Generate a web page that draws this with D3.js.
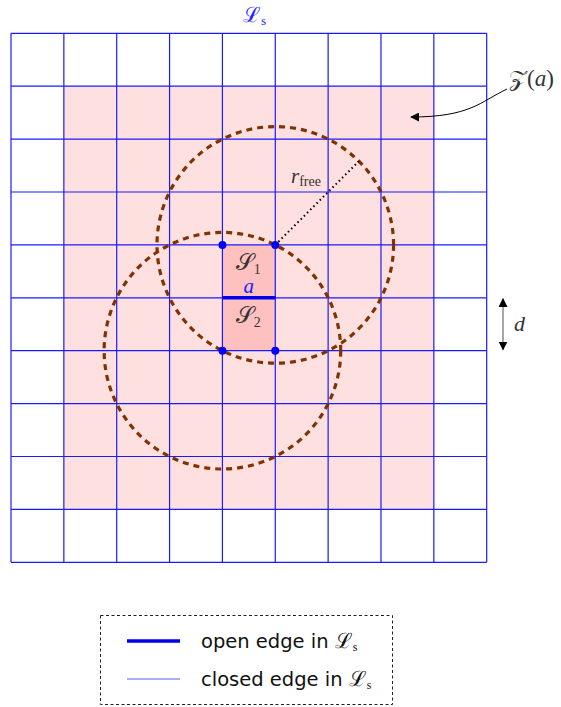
<!DOCTYPE html>
<html>
<head>
<meta charset="utf-8">
<script src="https://cdn.jsdelivr.net/npm/d3@7"></script>
<style>
  body { margin: 0; background: #fff; }
  .math { font-family: "Liberation Serif", "DejaVu Serif", serif; font-style: italic; }
</style>
</head>
<body>
<div id="chart"></div>
<script>
// lattice in cell units (9 columns x 10 rows)
const gridCols = [0, 1, 2, 3, 4, 5, 6, 7, 8, 9];
const gridRows = [0, 1, 2, 3, 4, 5, 6, 7, 8, 9, 10];
const zoneBox = { x0: 1, y0: 1, x1: 8, y1: 9 };
const sCells = [
  { name: "S", sub: "1", x: 4, y: 4 },
  { name: "S", sub: "2", x: 4, y: 5 }
];
const openEdge = [[4, 5], [5, 5]];
const dots = [[4, 4], [5, 4], [4, 6], [5, 6]];
const circles = [
  { cx: 5, cy: 4, r: Math.sqrt(5) },
  { cx: 4, cy: 6, r: Math.sqrt(5) }
];
const rFreeAngle = 45; // degrees, from upper-right dot
const legendItems = [
  { label: "open edge in ", width: 3.5, color: "#0000ee" },
  { label: "closed edge in ", width: 1.2, color: "#5a5aff" }
];

function renderLattice(containerId) {
  const width = 561;
  const height = 707;

  const container = d3.select(`#${containerId}`);
  container.html("");

  const svg = container.append("svg")
    .attr("width", width)
    .attr("height", height);

  const x = d3.scaleLinear().domain([0, 9]).range([11, 486.7]);
  const y = d3.scaleLinear().domain([0, 10]).range([33.3, 562.3]);
  const unit = y(1) - y(0);

  const defs = svg.append("defs");
  defs.append("marker")
    .attr("id", "head")
    .attr("viewBox", "0 0 10 10")
    .attr("refX", 9).attr("refY", 5)
    .attr("markerWidth", 9).attr("markerHeight", 9)
    .attr("markerUnits", "userSpaceOnUse")
    .attr("orient", "auto-start-reverse")
    .append("path")
    .attr("d", "M0,0 L10,5 L0,10 Z")
    .attr("fill", "#000");

  // Z(a) zone
  svg.append("rect")
    .attr("x", x(zoneBox.x0)).attr("y", y(zoneBox.y0))
    .attr("width", x(zoneBox.x1) - x(zoneBox.x0))
    .attr("height", y(zoneBox.y1) - y(zoneBox.y0))
    .attr("fill", "#ffe0e0");

  svg.selectAll("rect.s")
    .data(sCells).join("rect")
    .attr("class", "s")
    .attr("x", d => x(d.x)).attr("y", d => y(d.y))
    .attr("width", x(1) - x(0)).attr("height", unit)
    .attr("fill", "#ffc0c0");

  // grid lines
  svg.selectAll("line.v")
    .data(gridCols).join("line")
    .attr("class", "v")
    .attr("x1", d => x(d)).attr("x2", d => x(d))
    .attr("y1", y(0)).attr("y2", y(10))
    .attr("stroke", "#1a1aff").attr("stroke-width", 1.2);

  svg.selectAll("line.h")
    .data(gridRows).join("line")
    .attr("class", "h")
    .attr("x1", x(0)).attr("x2", x(9))
    .attr("y1", d => y(d)).attr("y2", d => y(d))
    .attr("stroke", "#1a1aff").attr("stroke-width", 1.2);

  // open edge a
  svg.append("line")
    .attr("x1", x(openEdge[0][0])).attr("y1", y(openEdge[0][1]))
    .attr("x2", x(openEdge[1][0])).attr("y2", y(openEdge[1][1]))
    .attr("stroke", "#0000ee").attr("stroke-width", 3.5);

  // free-radius circles
  svg.selectAll("circle.free")
    .data(circles).join("circle")
    .attr("class", "free")
    .attr("cx", d => x(d.cx)).attr("cy", d => y(d.cy))
    .attr("r", d => d.r * unit)
    .attr("fill", "none")
    .attr("stroke", "#7f3300")
    .attr("stroke-width", 3.2)
    .attr("stroke-dasharray", "6,5");

  // r_free radius
  const c0 = circles[0];
  const ang = rFreeAngle * Math.PI / 180;
  svg.append("line")
    .attr("x1", x(c0.cx)).attr("y1", y(c0.cy))
    .attr("x2", x(c0.cx + c0.r * Math.cos(ang))).attr("y2", y(c0.cy - c0.r * Math.sin(ang)))
    .attr("stroke", "#000").attr("stroke-width", 2)
    .attr("stroke-dasharray", "1.5,3");

  svg.selectAll("circle.dot")
    .data(dots).join("circle")
    .attr("class", "dot")
    .attr("cx", d => x(d[0])).attr("cy", d => y(d[1]))
    .attr("r", 4)
    .attr("fill", "#0000ff");

  // labels
  const ls = svg.append("text")
    .attr("class", "math")
    .attr("x", 243).attr("y", 22)
    .attr("fill", "#2020ff").attr("font-size", 21);
  ls.append("tspan").attr("font-style", "normal").text("ℒ");
  ls.append("tspan").attr("dy", 3).attr("font-size", 13).attr("font-style", "normal").text("s");

  svg.selectAll("text.s")
    .data(sCells).join("text")
    .attr("class", "math")
    .attr("x", d => x(d.x + 0.5) - 13).attr("y", d => y(d.y + 0.5) - 1)
    .attr("fill", "#333").attr("font-size", 23)
    .each(function (d) {
      const t = d3.select(this);
      t.append("tspan").attr("font-style", "normal").text("𝒮");
      t.append("tspan").attr("dy", 4).attr("font-size", 14).attr("font-style", "normal").text(d.sub);
    });

  svg.append("text")
    .attr("class", "math")
    .attr("x", x(4.5)).attr("y", y(5) - 5)
    .attr("text-anchor", "middle")
    .attr("fill", "#2020ff").attr("font-size", 21)
    .text("a");

  const rt = svg.append("text")
    .attr("class", "math")
    .attr("x", 291).attr("y", 183)
    .attr("fill", "#333").attr("font-size", 21);
  rt.append("tspan").text("r");
  rt.append("tspan").attr("dy", 3).attr("font-size", 14).attr("font-style", "normal").text("free");

  const zt = svg.append("text")
    .attr("class", "math")
    .attr("x", 509).attr("y", 86)
    .attr("fill", "#333").attr("font-size", 23);
  zt.append("tspan").attr("font-style", "normal").text("𝒵");
  zt.append("tspan").attr("font-style", "normal").text("(");
  zt.append("tspan").text("a");
  zt.append("tspan").attr("font-style", "normal").text(")");

  // arrow from Z(a) into zone
  svg.append("path")
    .attr("d", "M507,89 C480,102 470,117 411,117")
    .attr("fill", "none")
    .attr("stroke", "#000").attr("stroke-width", 1)
    .attr("marker-end", "url(#head)");

  // d arrow
  svg.append("line")
    .attr("x1", 503).attr("x2", 503)
    .attr("y1", y(5) + 1).attr("y2", y(6) - 1)
    .attr("stroke", "#777").attr("stroke-width", 1.3)
    .attr("marker-start", "url(#head)")
    .attr("marker-end", "url(#head)");

  svg.append("text")
    .attr("class", "math")
    .attr("x", 514).attr("y", y(5.5) + 7)
    .attr("fill", "#333").attr("font-size", 22)
    .text("d");

  // legend
  const lg = svg.append("g");
  lg.append("rect")
    .attr("x", 100.5).attr("y", 615.5)
    .attr("width", 292).attr("height", 89)
    .attr("fill", "none").attr("stroke", "#222")
    .attr("stroke-width", 1).attr("stroke-dasharray", "3,2.5");

  const rows = lg.selectAll("g.item")
    .data(legendItems).join("g")
    .attr("class", "item")
    .attr("transform", (d, i) => `translate(0,${641 + i * 38})`);

  rows.append("line")
    .attr("x1", 127).attr("x2", 180)
    .attr("stroke", d => d.color)
    .attr("stroke-width", d => d.width);

  const lt = rows.append("text")
    .attr("x", 201).attr("y", 7)
    .attr("font-family", "DejaVu Sans, sans-serif")
    .attr("font-size", 19.5)
    .attr("fill", "#111");
  lt.append("tspan").text(d => d.label);
  lt.append("tspan").attr("font-family", "Liberation Serif, DejaVu Serif, serif").attr("font-size", 21).text("ℒ");
  lt.append("tspan").attr("dy", 3).attr("font-size", 12)
    .attr("font-family", "Liberation Serif, serif").text("s");
}

renderLattice("chart");
</script>
</body>
</html>
